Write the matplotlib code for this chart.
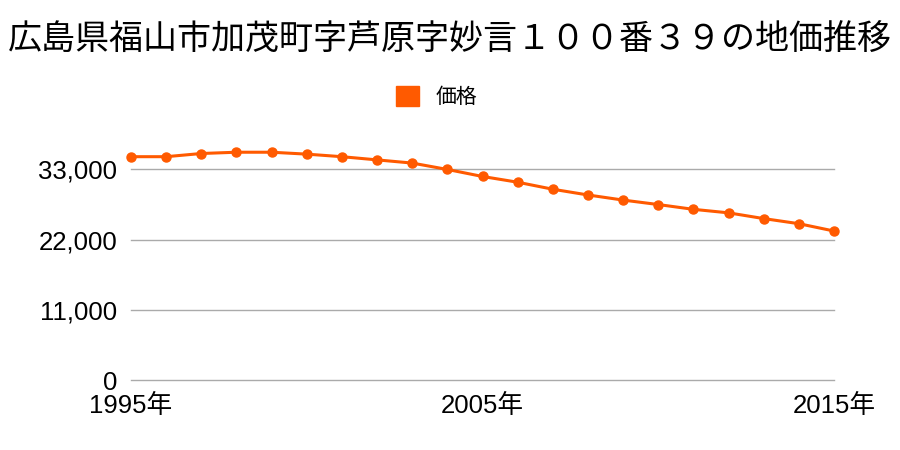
import matplotlib
matplotlib.use('Agg')
import matplotlib.pyplot as plt
from matplotlib.patches import Patch

plt.rcParams['font.family'] = ['Noto Sans CJK JP', 'DejaVu Sans']

title = '広島県福山市加茂町字芦原字妙言１００番３９の地価推移'
years = list(range(1995, 2016))
prices = [35000, 35000, 35500, 35700, 35700, 35400, 35000, 34500, 34000, 33000,
          31900, 31000, 29900, 29000, 28200, 27500, 26750, 26200, 25300, 24500, 23350]
yticks = [0, 11000, 22000, 33000]
xticks = [1995, 2005, 2015]

color = '#ff5a00'
tick_font = ['Liberation Sans', 'Noto Sans CJK JP']

fig = plt.figure(figsize=(9, 4.5), dpi=100)
ax = fig.add_axes([131 / 900, 1 - 380 / 450, (834 - 131) / 900, 245 / 450])

ax.plot(years, prices, color=color, lw=2.2, marker='o', ms=6.5, zorder=3, clip_on=False)

ax.set_xlim(1995, 2015)
ax.set_ylim(0, 38400)
ax.set_yticks(yticks)
ax.set_yticklabels([f'{v:,}' for v in yticks], fontsize=18.5, family=tick_font)
ax.set_xticks(xticks)
ax.set_xticklabels([f'{y}年' for y in xticks], fontsize=18.5, family=tick_font)
ax.yaxis.grid(True, color='#aaaaaa', lw=1)
for gl in ax.yaxis.get_gridlines():
    gl.set_clip_on(False)
ax.tick_params(length=0)
ax.tick_params(axis='y', pad=10)
ax.tick_params(axis='x', pad=10)
for s in ax.spines.values():
    s.set_visible(False)

fig.text(0.5, 1 - 40 / 450, title, ha='center', va='center', fontsize=24.5)
fig.legend(handles=[Patch(color=color, label='価格')], loc='center',
           bbox_to_anchor=(0.485, 1 - 97 / 450), frameon=False, fontsize=15,
           handlelength=1.1, handleheight=1.1, handletextpad=0.8)

fig.savefig('out.png', dpi=100)
